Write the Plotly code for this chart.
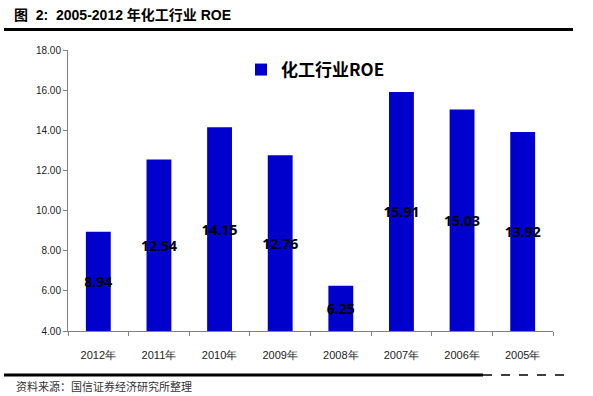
import plotly.graph_objects as go

years = ["2012年", "2011年", "2010年", "2009年", "2008年", "2007年", "2006年", "2005年"]
roe = [8.94, 12.54, 14.15, 12.76, 6.25, 15.91, 15.03, 13.92]
axis_min = 4.0
series_name = "化工行业ROE"
title_text = "图  2:  2005-2012 年化工行业 ROE"
source_text = "资料来源：国信证券经济研究所整理"

L, R, T, B = 68, 40, 50, 65
W, H = 593, 396
pw, ph = W - L - R, H - T - B

def px_x(px):
    return (px - L) / pw

def px_y(py):
    return (H - B - py) / ph

fig = go.Figure()
fig.add_trace(go.Bar(
    x=years,
    y=[v - axis_min for v in roe],
    base=axis_min,
    name=series_name,
    marker=dict(color="#0000CC", line=dict(width=0)),
    width=0.41,
    text=[f"{v:.2f}" for v in roe],
    textposition="inside",
    insidetextanchor="middle",
    constraintext="none",
    textangle=0,
    textfont=dict(family="Open Sans", size=14, color="black", weight="bold"),
    cliponaxis=False,
    showlegend=True,
))

fig.update_layout(
    width=W, height=H,
    margin=dict(l=L, r=R, t=T, b=B),
    paper_bgcolor="white", plot_bgcolor="white",
    showlegend=True,
    legend=dict(
        x=px_x(241), y=px_y(70), xanchor="left", yanchor="middle",
        bgcolor="rgba(0,0,0,0)",
        font=dict(family="Noto Sans CJK SC", size=17, color="black", weight="bold"),
        itemwidth=30,
    ),
)

fig.update_xaxes(
    type="category",
    showline=True, linecolor="#808080", linewidth=1,
    ticks="outside", ticklen=4, tickcolor="#808080",
    tickson="boundaries",
    tickfont=dict(family="Liberation Sans", size=11, color="#222222"),
    showgrid=False, zeroline=False,
    ticklabelstandoff=14,
)
fig.update_yaxes(
    range=[axis_min, 18], dtick=2, tickformat=".2f",
    showline=True, linecolor="#808080", linewidth=1,
    ticks="outside", ticklen=4, tickcolor="#808080",
    tickfont=dict(family="Liberation Sans", size=10, color="#222222"),
    showgrid=False, zeroline=False,
)

shapes = [
    dict(type="line", xref="paper", yref="paper",
         x0=px_x(4), x1=px_x(573), y0=px_y(29.5), y1=px_y(29.5),
         line=dict(color="black", width=3)),
    dict(type="line", xref="paper", yref="paper",
         x0=px_x(4), x1=px_x(483), y0=px_y(375), y1=px_y(375),
         line=dict(color="black", width=3)),
    dict(type="line", xref="paper", yref="paper",
         x0=px_x(483), x1=px_x(573), y0=px_y(375), y1=px_y(375),
         line=dict(color="black", width=1.5, dash="dash")),
]
fig.update_layout(shapes=shapes)

fig.add_annotation(
    xref="paper", yref="paper", x=px_x(12), y=px_y(15),
    xanchor="left", yanchor="middle", showarrow=False,
    text=title_text,
    font=dict(family="Liberation Sans, Noto Sans CJK SC", size=14, color="black", weight="bold"),
)
fig.add_annotation(
    xref="paper", yref="paper", x=px_x(14), y=px_y(386),
    xanchor="left", yanchor="middle", showarrow=False,
    text=source_text,
    font=dict(family="Noto Sans CJK SC", size=11, color="#333333"),
)

fig.write_html("out.html", config={"displayModeBar": False},
               post_script="document.body.style.margin='0px';")
